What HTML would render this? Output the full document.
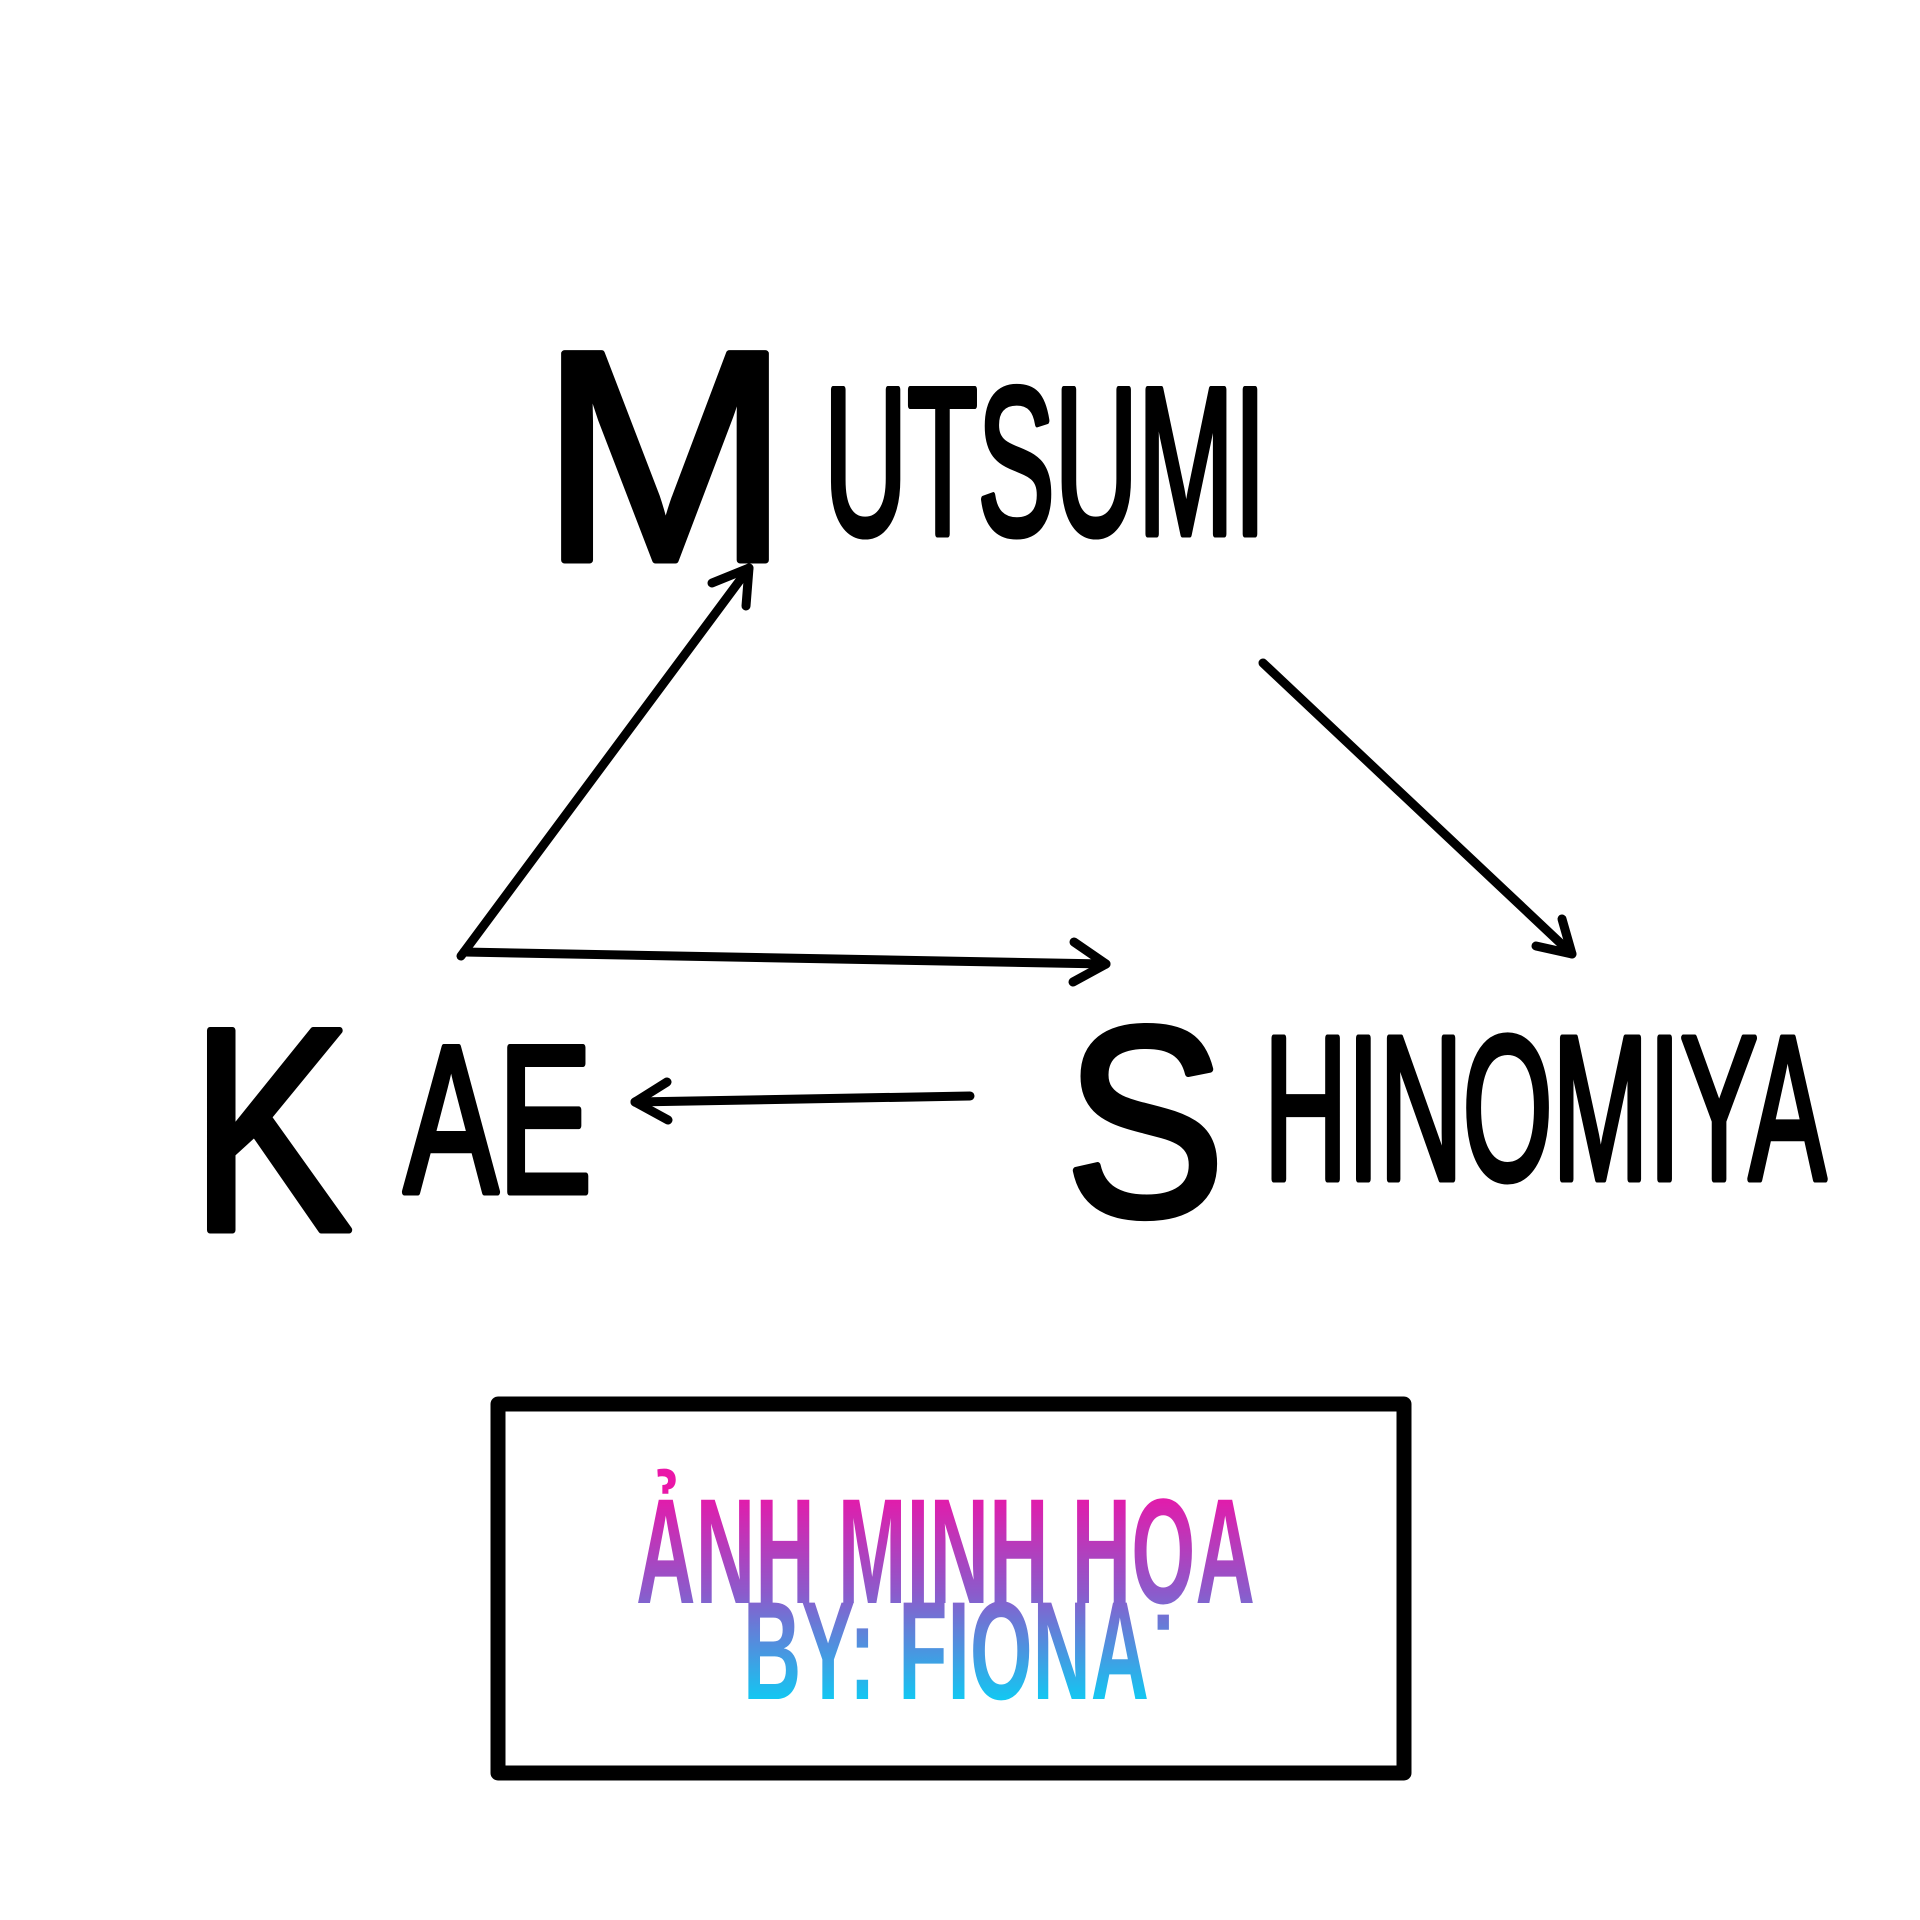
<!DOCTYPE html>
<html><head><meta charset="utf-8"><style>html,body{margin:0;padding:0;background:#fff}svg{display:block}</style></head>
<body>
<svg width="1920" height="1920" viewBox="0 0 1920 1920" xmlns="http://www.w3.org/2000/svg">
<defs>
<linearGradient id="g" x1="0" y1="1490" x2="0" y2="1700" gradientUnits="userSpaceOnUse">
<stop offset="0" stop-color="#ea16a8"/><stop offset="0.5" stop-color="#8a5ccc"/><stop offset="1" stop-color="#12c8f2"/>
</linearGradient>
</defs>
<rect width="1920" height="1920" fill="#fff"/>
<g font-family="'Liberation Sans',sans-serif" fill="#000" stroke="#000" stroke-width="7" stroke-linejoin="round">
<text x="540" y="560" font-size="300" textLength="250" lengthAdjust="spacingAndGlyphs">M</text>
<text x="824" y="534" font-size="210" textLength="442" lengthAdjust="spacingAndGlyphs">UTSUMI</text>
<text x="190" y="1230" font-size="290" textLength="162" lengthAdjust="spacingAndGlyphs">K</text>
<text x="404" y="1192" font-size="210" textLength="188" lengthAdjust="spacingAndGlyphs">AE</text>
<text x="1065" y="1215" font-size="270" textLength="160" lengthAdjust="spacingAndGlyphs">S</text>
<text x="1264" y="1179" font-size="205" textLength="562" lengthAdjust="spacingAndGlyphs">HINOMIYA</text>
</g>
<g stroke="#000" stroke-width="9" stroke-linecap="round" stroke-linejoin="round" fill="none">
<line x1="461" y1="956" x2="749" y2="568"/><polyline points="712,583 749,568 746,606"/>
<line x1="464" y1="952" x2="1106" y2="964"/><polyline points="1074,942 1106,964 1073,982"/>
<line x1="1263" y1="663" x2="1572" y2="954"/><polyline points="1562,919 1572,954 1536,946"/>
<line x1="970" y1="1096" x2="635" y2="1102"/><polyline points="667,1082 635,1102 668,1120"/>
</g>
<rect x="498" y="1404" width="906" height="369" fill="none" stroke="#000" stroke-width="15" stroke-linejoin="round"/>
<g font-family="'Liberation Sans',sans-serif" font-weight="bold" fill="url(#g)">
<text x="636" y="1603" font-size="150" textLength="619" lengthAdjust="spacingAndGlyphs">ẢNH MINH HỌA</text>
<text x="743" y="1699" font-size="140" textLength="406" lengthAdjust="spacingAndGlyphs">BY: FIONA</text>
</g>
</svg>
</body></html>
